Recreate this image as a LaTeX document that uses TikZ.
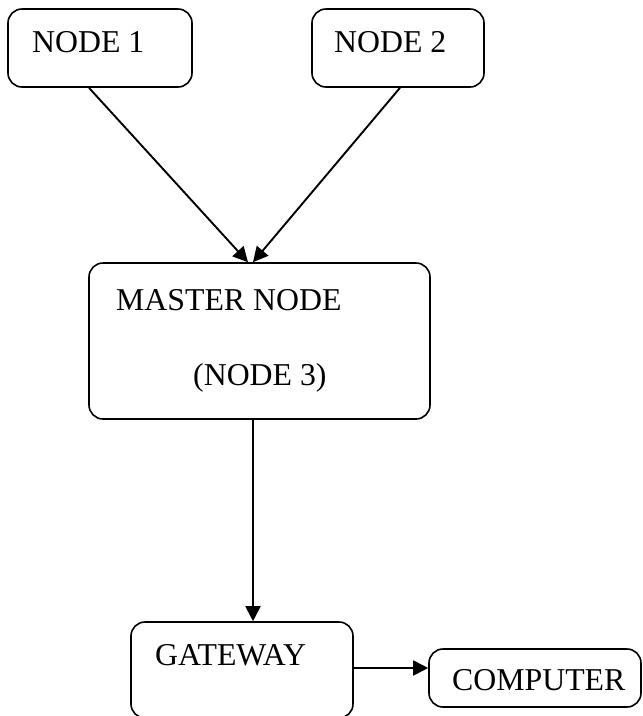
\documentclass[tikz,border=0pt]{standalone}
\usepackage{fontspec}
\setmainfont{Liberation Serif}
\usetikzlibrary{arrows.meta}
\begin{document}
\begin{tikzpicture}[x=1pt,y=-1pt,
  box/.style={draw,line width=1.6pt,rounded corners=14pt,inner sep=0pt},
  lbl/.style={anchor=base west,inner sep=0pt,font=\fontsize{31.8}{36}\selectfont},
  conn/.style={line width=1.9pt,-{Triangle[length=15pt,width=15pt]}}]
\useasboundingbox (0,0) rectangle (643,716);
\clip (0,0) rectangle (643,716);
\node[box,minimum width=184pt,minimum height=78pt] (n1) at (100,48) {};
\node[box,minimum width=172pt,minimum height=78pt] (n2) at (398,48) {};
\node[box,minimum width=341pt,minimum height=156pt] (m) at (259.5,341) {};
\node[box,minimum width=222pt,minimum height=96pt] (g) at (242,670) {};
\node[box,minimum width=212pt,minimum height=58pt] (c) at (535,678) {};
\node[lbl] (t1) at (32,52) {NODE 1};
\node[lbl] (t2) at (334,52) {NODE 2};
\node[lbl] (t3) at (116,310) {MASTER NODE};
\node[lbl] (t4) at (193,385) {(NODE 3)};
\node[lbl] (t5) at (155,665) {GATEWAY};
\node[lbl] (t6) at (452,690) {COMPUTER};
\draw[conn] ([xshift=-11pt]n1.south) -- ([xshift=-11.5pt]m.north);
\draw[conn] ([xshift=2pt]n2.south) -- ([xshift=-6.5pt]m.north);
\draw[conn] ([xshift=-6.5pt]m.south) -- ([xshift=11pt]g.north);
\draw[conn] ([yshift=2pt]g.east) -- ([yshift=10pt]c.west);
\end{tikzpicture}
\end{document}
